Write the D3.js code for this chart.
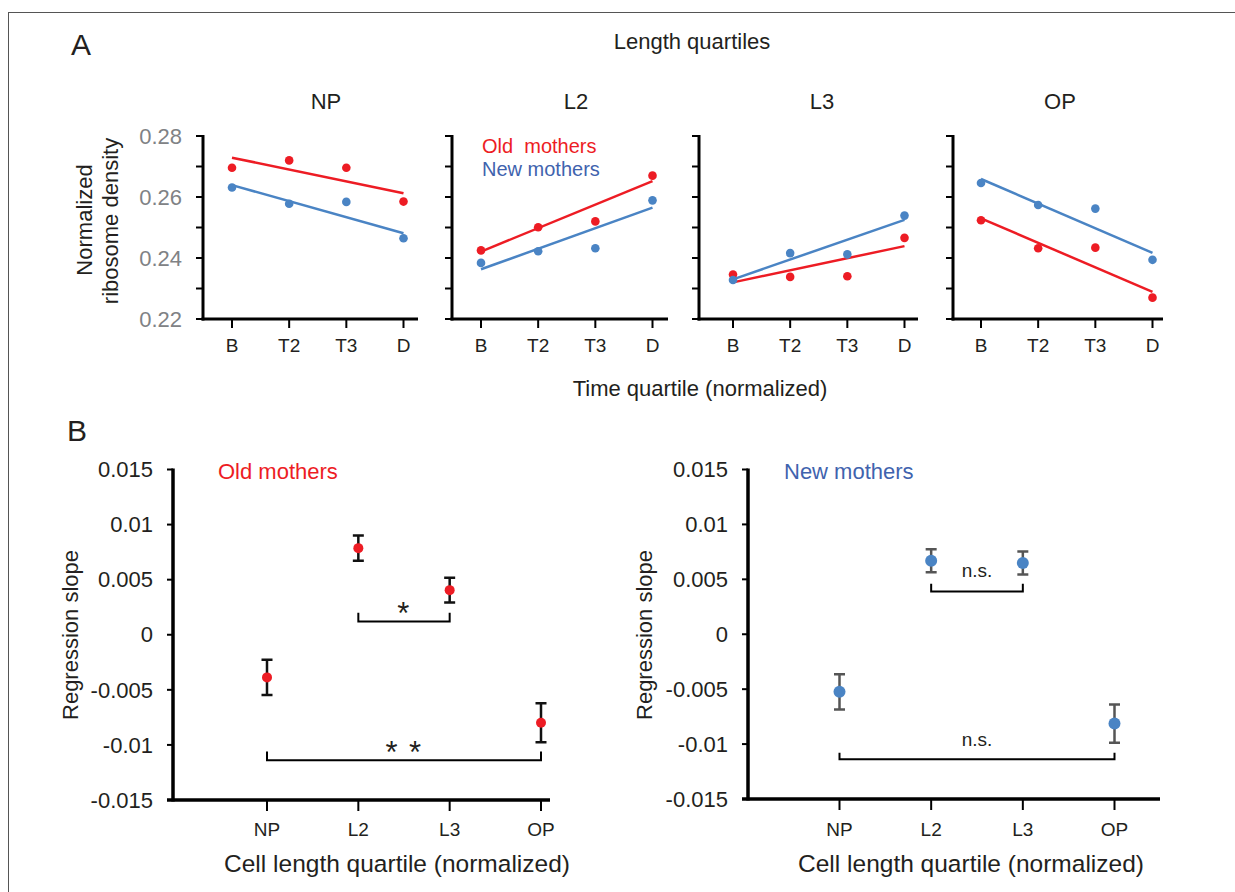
<!DOCTYPE html>
<html>
<head>
<meta charset="utf-8">
<script src="https://cdnjs.cloudflare.com/ajax/libs/d3/7.8.5/d3.min.js"></script>
<style>
    body { margin: 0; background: #fff; }
    svg { display: block; }
    text { font-family: "Liberation Sans", Arial, sans-serif; fill: #231f20; }
</style>
</head>
<body>
<div id="chart"></div>
<script>
// panel A: ribosome density per time quartile, one small plot per length quartile
var timeQuartiles = ["B", "T2", "T3", "D"];
var lengthQuartiles = ["NP", "L2", "L3", "OP"];

var oldDensity = [
    [0.2696, 0.2720, 0.2696, 0.2585],
    [0.2425, 0.2501, 0.2520, 0.2670],
    [0.2346, 0.2338, 0.2340, 0.2466],
    [0.2524, 0.2432, 0.2434, 0.2270]
];
var newDensity = [
    [0.2631, 0.2578, 0.2584, 0.2465],
    [0.2384, 0.2422, 0.2432, 0.2589],
    [0.2328, 0.2416, 0.2412, 0.2539],
    [0.2646, 0.2574, 0.2562, 0.2394]
];
// fitted line, value at B and at D
var oldFit = [[0.2729, 0.2612], [0.2421, 0.2652], [0.2320, 0.2439], [0.2530, 0.2289]];
var newFit = [[0.2639, 0.2481], [0.2363, 0.2565], [0.2330, 0.2525], [0.2659, 0.2417]];

var densityTicks = [0.22, 0.23, 0.24, 0.25, 0.26, 0.27, 0.28];
var densityLabels = ["0.22", "0.24", "0.26", "0.28"];

// panel B: regression slopes
var slopeTicks = [-0.015, -0.01, -0.005, 0, 0.005, 0.01, 0.015];
var oldSlope = [-0.00387, 0.00786, 0.00405, -0.00798];
var oldErr = [0.0016, 0.00115, 0.00113, 0.00177];
var newSlope = [-0.00524, 0.00669, 0.00648, -0.00813];
var newErr = [0.0016, 0.00104, 0.00105, 0.00174];

var oldBrackets = [
    { from: "L2", to: "L3", y: 0.0012, top: 0.002, label: "*" },
    { from: "NP", to: "OP", y: -0.0114, top: -0.0106, label: "* *" }
];
var newBrackets = [
    { from: "L2", to: "L3", y: 0.0039, top: 0.0046, label: "n.s." },
    { from: "NP", to: "OP", y: -0.01137, top: -0.0108, label: "n.s." }
];

var RED = "#ed1c24";
var BLUE = "#4a84c4";

var width = 1235, height = 892;
var svg = d3.select("#chart").append("svg")
    .attr("width", width)
    .attr("height", height);

// frame
svg.append("rect")
    .attr("x", 8.5).attr("y", 12.5)
    .attr("width", 1400).attr("height", 1000)
    .attr("fill", "none").attr("stroke", "#555").attr("stroke-width", 1);

svg.append("text").attr("x", 71).attr("y", 55).style("font-size", "30px").text("A");
svg.append("text").attr("x", 67).attr("y", 441).style("font-size", "30px").text("B");

svg.append("text").attr("x", 692).attr("y", 49)
    .attr("text-anchor", "middle").style("font-size", "22px").text("Length quartiles");
svg.append("text").attr("x", 700).attr("y", 396)
    .attr("text-anchor", "middle").style("font-size", "22px").text("Time quartile (normalized)");

var yA = d3.scaleLinear().domain([0.22, 0.28]).range([319, 136]);

var panelAxisX = [203, 452, 699, 953];
var panelFirstX = [232, 481, 733, 981];
var panelEndX = [418, 668, 918, 1163];
var panelTitleX = [326, 576, 822, 1060];

var yLab = svg.append("g").style("font-size", "22px");
yLab.append("text").attr("transform", "translate(91.5,220) rotate(-90)")
    .attr("text-anchor", "middle").text("Normalized");
yLab.append("text").attr("transform", "translate(117.5,221) rotate(-90)")
    .attr("text-anchor", "middle").text("ribosome density");

lengthQuartiles.forEach(function (name, i) {
    var x = d3.scalePoint().domain(timeQuartiles)
        .range([panelFirstX[i], panelFirstX[i] + 171.5]);
    var g = svg.append("g");

    g.append("text").attr("x", panelTitleX[i]).attr("y", 109)
        .attr("text-anchor", "middle").style("font-size", "22px").text(name);

    // y ticks
    g.selectAll(".yt").data(densityTicks).join("line")
        .attr("x1", panelAxisX[i] - 7).attr("x2", panelAxisX[i])
        .attr("y1", d => yA(d)).attr("y2", d => yA(d))
        .attr("stroke", "#000").attr("stroke-width", 2);
    if (i === 0) {
        g.selectAll(".yl").data(densityLabels).join("text")
            .attr("x", panelAxisX[i] - 21).attr("y", d => yA(+d))
            .attr("dy", "0.35em").attr("text-anchor", "end")
            .style("font-size", "22px").style("fill", "#808285")
            .text(d => d);
    }
    // x ticks + labels
    g.selectAll(".xt").data(timeQuartiles).join("line")
        .attr("x1", d => x(d)).attr("x2", d => x(d))
        .attr("y1", yA(0.22)).attr("y2", yA(0.22) + 9)
        .attr("stroke", "#000").attr("stroke-width", 2);
    g.selectAll(".xl").data(timeQuartiles).join("text")
        .attr("x", d => x(d)).attr("y", 352)
        .attr("text-anchor", "middle").style("font-size", "19px")
        .text(d => d);
    // axes
    g.append("line")
        .attr("x1", panelAxisX[i]).attr("x2", panelAxisX[i])
        .attr("y1", yA(0.28) - 1).attr("y2", yA(0.22) + 1.5)
        .attr("stroke", "#000").attr("stroke-width", 3);
    g.append("line")
        .attr("x1", panelAxisX[i] - 1.5).attr("x2", panelEndX[i])
        .attr("y1", yA(0.22)).attr("y2", yA(0.22))
        .attr("stroke", "#000").attr("stroke-width", 3);

    // fits and points
    [[oldFit[i], oldDensity[i], RED], [newFit[i], newDensity[i], BLUE]].forEach(function (s) {
        g.append("line")
            .attr("x1", x("B")).attr("x2", x("D"))
            .attr("y1", yA(s[0][0])).attr("y2", yA(s[0][1]))
            .attr("stroke", s[2]).attr("stroke-width", 2.5);
        g.selectAll(null).data(s[1]).join("circle")
            .attr("cx", (d, j) => x(timeQuartiles[j]))
            .attr("cy", d => yA(d))
            .attr("r", 4.3)
            .attr("fill", s[2]);
    });
});

// legend in L2 panel
svg.append("text").attr("x", 482).attr("y", 153)
    .style("font-size", "20px").style("fill", RED).style("white-space", "pre")
    .text("Old  mothers");
svg.append("text").attr("x", 482).attr("y", 176)
    .style("font-size", "20px").style("fill", "#3f63ae")
    .text("New mothers");

// panel B
var slopePanels = [
    { axisX: 173, first: 267, last: 541, end: 550, bottom: 800, labelX: 77.5,
      title: "Old mothers", titleX: 218, titleColor: RED,
      values: oldSlope, err: oldErr, color: RED, errColor: "#111", r: 5,
      brackets: oldBrackets, labelX2: 397 },
    { axisX: 748, first: 839.5, last: 1114.5, end: 1160, bottom: 799, labelX: 652,
      title: "New mothers", titleX: 784, titleColor: "#3f63ae",
      values: newSlope, err: newErr, color: BLUE, errColor: "#555", r: 6,
      brackets: newBrackets, labelX2: 971 }
];

slopePanels.forEach(function (p) {
    var g = svg.append("g");
    var y = d3.scaleLinear().domain([-0.015, 0.015]).range([p.bottom, 469.5]);
    var x = d3.scalePoint().domain(lengthQuartiles).range([p.first, p.last]);

    g.append("text").attr("x", p.titleX).attr("y", 479)
        .style("font-size", "22px").style("fill", p.titleColor).text(p.title);

    g.append("text").attr("transform", "translate(" + p.labelX + ",635) rotate(-90)")
        .attr("text-anchor", "middle").style("font-size", "22px").text("Regression slope");

    g.append("text").attr("x", p.labelX2).attr("y", 872)
        .attr("text-anchor", "middle").style("font-size", "24.5px")
        .text("Cell length quartile (normalized)");

    g.selectAll(".yt").data(slopeTicks).join("line")
        .attr("x1", p.axisX - 6).attr("x2", p.axisX)
        .attr("y1", d => y(d)).attr("y2", d => y(d))
        .attr("stroke", "#000").attr("stroke-width", 2);
    g.selectAll(".yl").data(slopeTicks).join("text")
        .attr("x", p.axisX - 20).attr("y", d => y(d))
        .attr("dy", "0.35em").attr("text-anchor", "end")
        .style("font-size", "22px")
        .text(d => String(d));

    g.selectAll(".xt").data(lengthQuartiles).join("line")
        .attr("x1", d => x(d)).attr("x2", d => x(d))
        .attr("y1", p.bottom).attr("y2", p.bottom + 11)
        .attr("stroke", "#000").attr("stroke-width", 2);
    g.selectAll(".xl").data(lengthQuartiles).join("text")
        .attr("x", d => x(d)).attr("y", 836)
        .attr("text-anchor", "middle").style("font-size", "19px")
        .text(d => d);

    g.append("line")
        .attr("x1", p.axisX).attr("x2", p.axisX)
        .attr("y1", y(0.015) - 1).attr("y2", p.bottom + 1.5)
        .attr("stroke", "#000").attr("stroke-width", 3.5);
    g.append("line")
        .attr("x1", p.axisX - 6).attr("x2", p.end)
        .attr("y1", p.bottom).attr("y2", p.bottom)
        .attr("stroke", "#000").attr("stroke-width", 3.5);

    // brackets
    p.brackets.forEach(function (b) {
        var x1 = x(b.from), x2 = x(b.to);
        g.append("path")
            .attr("d", "M" + x1 + "," + y(b.top) + "V" + y(b.y) + "H" + x2 + "V" + y(b.top))
            .attr("fill", "none").attr("stroke", "#000").attr("stroke-width", 2);
        var star = b.label.indexOf("*") >= 0;
        g.append("text")
            .attr("x", (x1 + x2) / 2)
            .attr("y", star ? y(b.top) + 11 : y(b.top) - 7)
            .attr("text-anchor", "middle")
            .style("font-size", star ? "31px" : "19px")
            .style("letter-spacing", star ? "1.5px" : null)
            .style("white-space", "pre")
            .text(b.label);
    });

    // error bars + points
    var pts = g.selectAll(".pt").data(p.values).join("g");
    pts.append("path")
        .attr("d", (d, j) => {
            var cx = x(lengthQuartiles[j]);
            var t = y(d + p.err[j]), b = y(d - p.err[j]);
            return "M" + (cx - 5.5) + "," + t + "H" + (cx + 5.5) +
                "M" + cx + "," + t + "V" + b +
                "M" + (cx - 5.5) + "," + b + "H" + (cx + 5.5);
        })
        .attr("fill", "none").attr("stroke", p.errColor).attr("stroke-width", 2.5);
    pts.append("circle")
        .attr("cx", (d, j) => x(lengthQuartiles[j]))
        .attr("cy", d => y(d))
        .attr("r", p.r)
        .attr("fill", p.color);
});
</script>
</body>
</html>
